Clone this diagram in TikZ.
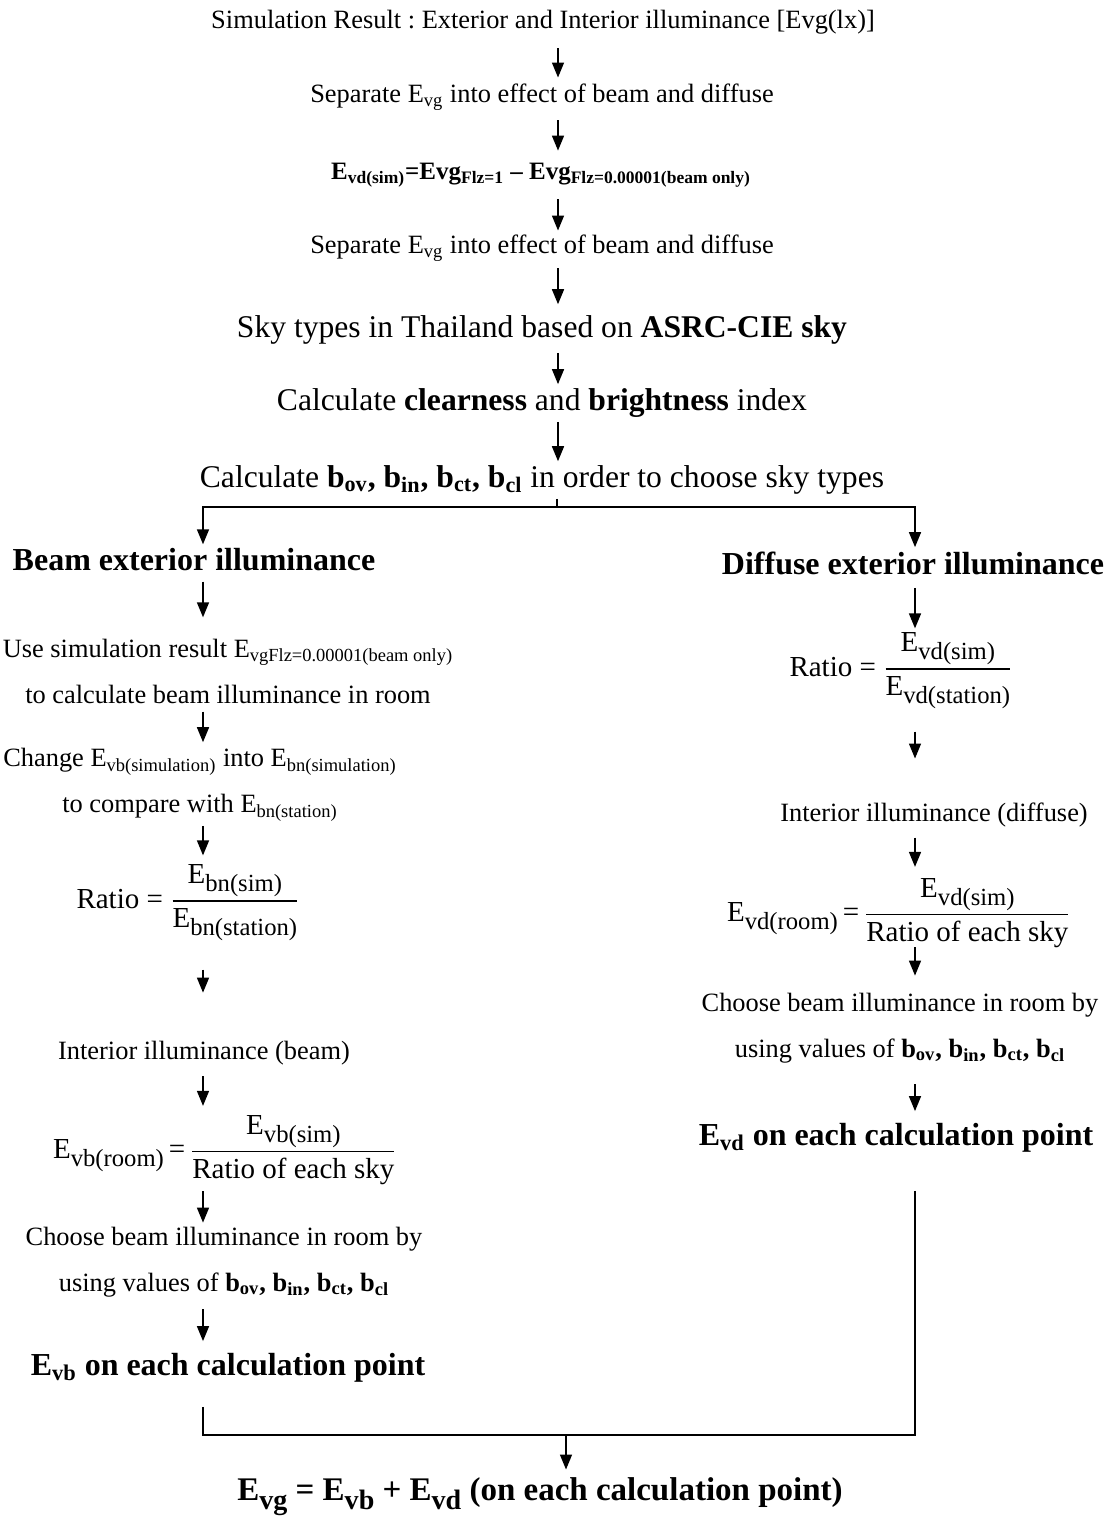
\documentclass[tikz,border=0pt]{standalone}
\usepackage{amsmath}
\usepackage{graphicx}
\usepackage{fontspec}
\setmainfont{Liberation Serif}
\usetikzlibrary{arrows.meta}
\frenchspacing
\newcommand{\dropsub}[1]{\raisebox{-0.6ex}{\scalebox{0.85}{#1}}}
\tikzset{
  txt/.style={inner sep=2pt, font=\fontsize{13.2}{16}\selectfont},
  pair/.style={inner sep=2pt, align=center, font=\fontsize{13.2}{23}\selectfont},
  bigtxt/.style={inner sep=2pt, font=\fontsize{15.8}{19}\selectfont},
  head/.style={inner sep=2pt, font=\bfseries\fontsize{16}{19}\selectfont},
  fracbox/.style={inner sep=2pt, font=\fontsize{14.5}{18}\selectfont},
  flow/.style={-{Triangle[width=6pt,length=7.5pt]}, line width=0.75pt, shorten <=3pt, shorten >=3pt},
  link/.style={line width=1pt}
}

\begin{document}
\begin{tikzpicture}[x=0.5pt, y=-0.5pt]
  \useasboundingbox (0,0) rectangle (1110,1520);
  % columns
  \coordinate (colM) at (558,0);
  \coordinate (colL) at (203,0);
  \coordinate (colR) at (915,0);

  % common part
  \node[txt] (sim) at (543,22) {Simulation Result : Exterior and Interior illuminance [Evg(lx)]};
  \node[txt] (sep1) at (542,97) {Separate E\textsubscript{vg} into effect of beam and diffuse};
  \node[txt, font=\bfseries\fontsize{12.5}{15}\selectfont] (evd) at (541,175)
    {E\textsubscript{vd(sim)}=Evg\textsubscript{Flz=1} -- Evg\textsubscript{Flz=0.00001(beam only)}};
  \node[txt] (sep2) at (542,248) {Separate E\textsubscript{vg} into effect of beam and diffuse};
  \node[bigtxt] (sky) at (542,330) {Sky types in Thailand based on \textbf{ASRC-CIE sky}};
  \node[bigtxt] (idx) at (542,403) {Calculate \textbf{clearness} and \textbf{brightness} index};
  \node[bigtxt] (bsel) at (542,480)
    {Calculate \textbf{b\textsubscript{ov}, b\textsubscript{in}, b\textsubscript{ct}, b\textsubscript{cl}} in order to choose sky types};

  \draw[flow, shorten <=5pt, shorten >=1pt] (sim.south -| colM) -- (sep1.north -| colM);
  \draw[flow, shorten >=4pt] (sep1.south -| colM) -- (evd.north -| colM);
  \draw[flow, shorten <=4pt, shorten >=0pt] (evd.south -| colM) -- (sep2.north -| colM);
  \draw[flow, shorten <=1.5pt, shorten >=3.5pt] (sep2.south -| colM) -- (sky.north -| colM);
  \draw[flow, shorten <=2pt, shorten >=0pt] (sky.south -| colM) -- (idx.north -| colM);
  \draw[flow, shorten <=0pt, shorten >=0pt] (idx.south -| colM) -- (bsel.north -| colM);

  % branch
  \coordinate (split) at (557,507);
  \draw[link] (bsel.south -| split) -- (split);

  % beam side
  \node[head] (beam) at (194,560) {Beam exterior illuminance};
  \node[pair] (usesim) at (228,671)
    {Use simulation result E\textsubscript{vgFlz=0.00001(beam only)}\\to calculate beam illuminance in room};
  \node[pair] (change) at (200,785)
    {Change E\textsubscript{vb(simulation)} into E\textsubscript{bn(simulation)}\\to compare with E\textsubscript{bn(station)}};
  \node[fracbox] (ratioL) at (188,903)
    {Ratio = $\dfrac{\text{E\dropsub{bn(sim)}}}{\text{E\dropsub{bn(station)}}}$};
  \node[txt] (intL) at (204,1053) {Interior illuminance (beam)};
  \node[fracbox] (roomL) at (225,1150)
    {E\dropsub{vb(room)}\,=\,$\dfrac{\text{E\dropsub{vb(sim)}}}{\text{Ratio of each sky}}$};
  \node[pair] (chooseL) at (224,1262)
    {Choose beam illuminance in room by\\using values of \textbf{b\textsubscript{ov}, b\textsubscript{in}, b\textsubscript{ct}, b\textsubscript{cl}}};
  \node[head] (evb) at (228,1368) {E\textsubscript{vb} on each calculation point};

  \draw[flow, shorten <=0pt, shorten >=0pt] (split) -| (beam.north -| colL);
  \draw[flow, shorten >=8.5pt] (beam.south -| colL) -- (usesim.north -| colL);
  \draw[flow, shorten <=2pt, shorten >=1pt] (usesim.south -| colL) -- (change.north -| colL);
  \draw[flow, shorten <=0pt, shorten >=2.5pt] (change.south -| colL) -- (ratioL.north -| colL);
  \draw[flow, shorten <=12pt, shorten >=22pt] (ratioL.south -| colL) -- (intL.north -| colL);
  \draw[flow, shorten <=3.5pt, shorten >=2.5pt] (intL.south -| colL) -- (roomL.north -| colL);
  \draw[flow, shorten <=1pt, shorten >=0pt] (roomL.south -| colL) -- (chooseL.north -| colL);
  \draw[flow, shorten <=4pt, shorten >=4pt] (chooseL.south -| colL) -- (evb.north -| colL);

  % diffuse side
  \node[head] (diff) at (913,563) {Diffuse exterior illuminance};
  \node[fracbox] (ratioR) at (901,671)
    {Ratio = $\dfrac{\text{E\dropsub{vd(sim)}}}{\text{E\dropsub{vd(station)}}}$};
  \node[txt] (intR) at (934,815) {Interior illuminance (diffuse)};
  \node[fracbox] (roomR) at (899,913)
    {E\dropsub{vd(room)}\,=\,$\dfrac{\text{E\dropsub{vd(sim)}}}{\text{Ratio of each sky}}$};
  \node[pair] (chooseR) at (900,1028)
    {Choose beam illuminance in room by\\using values of \textbf{b\textsubscript{ov}, b\textsubscript{in}, b\textsubscript{ct}, b\textsubscript{cl}}};
  \node[head] (evdp) at (896,1138) {E\textsubscript{vd} on each calculation point};

  \draw[flow, shorten <=0pt, shorten >=0pt] (split) -| (diff.north -| colR);
  \draw[flow, shorten <=4.5pt, shorten >=0pt] (diff.south -| colR) -- (ratioR.north -| colR);
  \draw[flow, shorten <=9pt, shorten >=20pt] (ratioR.south -| colR) -- (intR.north -| colR);
  \draw[flow, shorten >=3.5pt] (intR.south -| colR) -- (roomR.north -| colR);
  \draw[flow, shorten <=-2.5pt, shorten >=6.5pt] (roomR.south -| colR) -- (chooseR.north -| colR);
  \draw[flow, shorten <=8.5pt, shorten >=4pt] (chooseR.south -| colR) -- (evdp.north -| colR);

  % merge
  \coordinate (join) at (566,1435);
  \node[head, font=\bfseries\fontsize{16.5}{20}\selectfont] (total) at (540,1497)
    {E\dropsub{vg} = E\dropsub{vb} + E\dropsub{vd} (on each calculation point)};
  \draw[link, shorten <=10pt] (evb.south -| colL) |- (join);
  \draw[link, shorten <=17pt] (evdp.south -| colR) |- (join);
  \draw[flow, shorten <=0pt, shorten >=2pt] (join) -- (total.north -| join);
\end{tikzpicture}
\end{document}
